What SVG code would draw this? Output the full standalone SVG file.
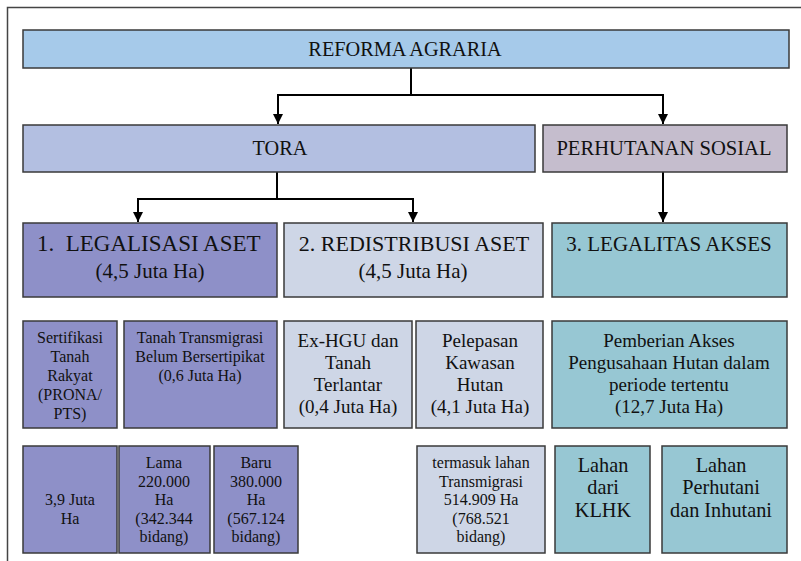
<svg xmlns="http://www.w3.org/2000/svg" width="801" height="561" viewBox="0 0 801 561">
  <style>
    .box { stroke: #3a3a3a; stroke-width: 1.5; }
    .ra { fill: #a6caea; }
    .tora { fill: #b3bfe1; }
    .ps { fill: #c5bdcd; }
    .leg { fill: #8e90c8; }
    .red { fill: #ced6e6; }
    .akses { fill: #97c7d3; }
    text { fill: #111; text-anchor: middle; }
    text.start { text-anchor: start; }
    .t20 { font-size: 20.3px; }
    .t20b { font-size: 20.6px; }
    .t21 { font-size: 21px; }
    .t22 { font-size: 22px; }
    .t23 { font-size: 23px; }
    .t19 { font-size: 19px; }
    .t16 { font-size: 16px; }
    .conn { stroke: #000; stroke-width: 2; fill: none; }
    .frame { stroke: #444; stroke-width: 1.5; fill: none; }
  </style>
  <defs>
    <marker id="arrow" viewBox="0 0 10 10" refX="10" refY="5" markerWidth="5" markerHeight="5" markerUnits="strokeWidth" orient="auto">
      <path d="M0,0 L10,5 L0,10 z" fill="#000"/>
    </marker>
  </defs>

  <rect width="801" height="561" fill="#fff"/>
  <!-- page frame: top and left rules -->
  <path class="frame" d="M7.5,561 V7.5 H801"/>

  <!-- connectors -->
  <g id="connectors">
    <path class="conn" d="M411,68 V95 H278 V124" marker-end="url(#arrow)"/>
    <path class="conn" d="M411,95 H663 V124" marker-end="url(#arrow)"/>
    <path class="conn" d="M277,172 V199 H138 V222" marker-end="url(#arrow)"/>
    <path class="conn" d="M277,199 H413 V222" marker-end="url(#arrow)"/>
    <path class="conn" d="M663,172 V222" marker-end="url(#arrow)"/>
  </g>

  <g font-family="'Liberation Serif', 'Times New Roman', serif">
  <!-- level 0 -->
  <g id="reforma-agraria">
    <rect class="box ra" x="23" y="30" width="766" height="38"/>
    <text class="t20" x="405" y="56">REFORMA AGRARIA</text>
  </g>

  <!-- level 1 -->
  <g id="tora">
    <rect class="box tora" x="23" y="125" width="512" height="47"/>
    <text class="t20" x="280" y="155">TORA</text>
  </g>
  <g id="perhutanan-sosial">
    <rect class="box ps" x="543" y="125" width="244" height="47"/>
    <text class="t20b" x="664" y="155">PERHUTANAN SOSIAL</text>
  </g>

  <!-- level 2 -->
  <g id="legalisasi-aset">
    <rect class="box leg" x="23" y="223" width="254" height="74"/>
    <text class="t23 start" x="37" y="251" xml:space="preserve">1.  LEGALISASI ASET</text>
    <text class="t21" x="150" y="278">(4,5 Juta Ha)</text>
  </g>
  <g id="redistribusi-aset">
    <rect class="box red" x="284" y="223" width="259" height="74"/>
    <text class="t22" x="414" y="251">2. REDISTRIBUSI ASET</text>
    <text class="t21" x="413" y="278">(4,5 Juta Ha)</text>
  </g>
  <g id="legalitas-akses">
    <rect class="box akses" x="552" y="223" width="235" height="74"/>
    <text class="t21" x="669" y="251">3. LEGALITAS AKSES</text>
  </g>

  <!-- level 3 -->
  <g id="sertifikasi">
    <rect class="box leg" x="23" y="321" width="94" height="107"/>
    <text class="t16" x="70" y="343">Sertifikasi</text>
    <text class="t16" x="70" y="362">Tanah</text>
    <text class="t16" x="70" y="381">Rakyat</text>
    <text class="t16" x="70" y="400">(PRONA/</text>
    <text class="t16" x="70" y="419">PTS)</text>
  </g>
  <g id="tanah-transmigrasi">
    <rect class="box leg" x="124" y="321" width="153" height="107"/>
    <text class="t16" x="200" y="343">Tanah Transmigrasi</text>
    <text class="t16" x="200" y="362">Belum Bersertipikat</text>
    <text class="t16" x="200" y="381">(0,6 Juta Ha)</text>
  </g>
  <g id="ex-hgu">
    <rect class="box red" x="284" y="321" width="128" height="107"/>
    <text class="t19" x="348" y="347">Ex-HGU dan</text>
    <text class="t19" x="348" y="369">Tanah</text>
    <text class="t19" x="348" y="391">Terlantar</text>
    <text class="t19" x="348" y="413">(0,4 Juta Ha)</text>
  </g>
  <g id="pelepasan-kawasan">
    <rect class="box red" x="416" y="321" width="127" height="107"/>
    <text class="t19" x="480" y="347">Pelepasan</text>
    <text class="t19" x="480" y="369">Kawasan</text>
    <text class="t19" x="480" y="391">Hutan</text>
    <text class="t19" x="480" y="413">(4,1 Juta Ha)</text>
  </g>
  <g id="pemberian-akses">
    <rect class="box akses" x="552" y="321" width="235" height="107"/>
    <text class="t19" x="669" y="347">Pemberian Akses</text>
    <text class="t19" x="669" y="369">Pengusahaan Hutan dalam</text>
    <text class="t19" x="669" y="391">periode tertentu</text>
    <text class="t19" x="669" y="413">(12,7 Juta Ha)</text>
  </g>

  <!-- level 4 -->
  <g id="sertifikasi-luas">
    <rect class="box leg" x="23" y="446" width="94" height="107"/>
    <text class="t16" x="70" y="505">3,9 Juta</text>
    <text class="t16" x="70" y="524">Ha</text>
  </g>
  <g id="transmigrasi-lama">
    <rect class="box leg" x="119" y="446" width="91" height="107"/>
    <text class="t16" x="164" y="468">Lama</text>
    <text class="t16" x="164" y="487">220.000</text>
    <text class="t16" x="164" y="505">Ha</text>
    <text class="t16" x="164" y="524">(342.344</text>
    <text class="t16" x="164" y="542">bidang)</text>
  </g>
  <g id="transmigrasi-baru">
    <rect class="box leg" x="214" y="446" width="84" height="107"/>
    <text class="t16" x="256" y="468">Baru</text>
    <text class="t16" x="256" y="487">380.000</text>
    <text class="t16" x="256" y="505">Ha</text>
    <text class="t16" x="256" y="524">(567.124</text>
    <text class="t16" x="256" y="542">bidang)</text>
  </g>
  <g id="lahan-transmigrasi">
    <rect class="box red" x="417" y="446" width="128" height="107"/>
    <text class="t16" x="481" y="468">termasuk lahan</text>
    <text class="t16" x="481" y="487">Transmigrasi</text>
    <text class="t16" x="481" y="505">514.909 Ha</text>
    <text class="t16" x="481" y="524">(768.521</text>
    <text class="t16" x="481" y="542">bidang)</text>
  </g>
  <g id="lahan-klhk">
    <rect class="box akses" x="555" y="446" width="95" height="107"/>
    <text class="t20" x="603" y="472">Lahan</text>
    <text class="t20" x="603" y="494">dari</text>
    <text class="t20" x="603" y="517">KLHK</text>
  </g>
  <g id="lahan-perhutani">
    <rect class="box akses" x="662" y="446" width="125" height="107"/>
    <text class="t20" x="721" y="472">Lahan</text>
    <text class="t20" x="721" y="494">Perhutani</text>
    <text class="t20" x="721" y="517">dan Inhutani</text>
  </g>
  </g>
</svg>
